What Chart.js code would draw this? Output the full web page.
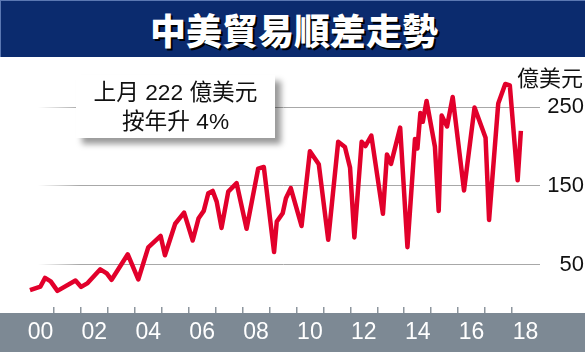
<!DOCTYPE html>
<html>
<head>
<meta charset="utf-8">
<script src="https://cdn.jsdelivr.net/npm/chart.js@4/dist/chart.umd.min.js"></script>
<style>
  html, body { margin: 0; padding: 0; background: #fff; }
  #wrap { position: relative; width: 585px; height: 360px; overflow: hidden; }
  #chart { position: absolute; left: 0; top: 0; }
  .title-bar {
    position: absolute; left: 0; top: 0; width: 585px; height: 57px;
    background: #0b2b6e; border-top: 1px solid #5b78b2; border-left: 1px solid #5b78b2; box-sizing: border-box;
  }
  .title-bar span {
    position: absolute; left: 0; right: 0; top: 6px; text-align: center; padding-left: 2px;
    color: #fff; font: 900 36px "Noto Sans CJK TC", sans-serif; line-height: 44px;
    text-shadow: 2px 2px 0 #000;
  }
  .note {
    position: absolute; left: 76px; top: 75px; width: 199px; height: 63px;
    background: #fff; box-shadow: 6px 6px 6px rgba(0,0,0,0.4);
    font: 22.7px "Liberation Sans", "Noto Sans CJK TC", sans-serif; color: #111;
    text-align: center; line-height: 29px; padding-top: 3px; box-sizing: border-box;
  }
  .unit {
    position: absolute; right: 2px; top: 61px;
    font: 22px "Noto Sans CJK TC", sans-serif; color: #111; line-height: 30px;
  }
</style>
</head>
<body>
<div id="wrap">
  <canvas id="chart" width="585" height="360"></canvas>
  <div class="title-bar"><span>中美貿易順差走勢</span></div>
  <div class="note">上月 222 億美元<br>按年升 4%</div>
  <div class="unit">億美元</div>
</div>
<script>
// --- 數據 (讀圖估計) ---
const years = [
  2000.11, 2000.50, 2000.67, 2000.88, 2001.13, 2001.80, 2002.01, 2002.25, 2002.72, 2002.96,
  2003.14, 2003.74, 2004.13, 2004.50, 2004.96, 2005.12, 2005.50, 2005.83, 2006.15, 2006.37,
  2006.56, 2006.73, 2006.89, 2007.04, 2007.22, 2007.47, 2007.78, 2008.15, 2008.58, 2008.79,
  2009.17, 2009.27, 2009.49, 2009.61, 2009.79, 2010.19, 2010.50, 2010.83, 2011.18, 2011.55,
  2011.80, 2011.99, 2012.15, 2012.42, 2012.56, 2012.78, 2013.21, 2013.36, 2013.51, 2013.85,
  2014.12, 2014.40, 2014.49, 2014.60, 2014.69, 2014.83, 2015.14, 2015.28, 2015.39, 2015.59,
  2015.80, 2016.22, 2016.61, 2017.02, 2017.15, 2017.49, 2017.75, 2017.92, 2018.21, 2018.33
];
const surplus = [
  17.5, 22, 33, 28.6, 16.5, 29.6, 21.5, 26.4, 43.9, 38.8,
  30.6, 63, 31, 71.7, 86.3, 61.8, 101.8, 116, 80.5, 108.9,
  118.2, 140.7, 143.6, 130, 96.5, 142.7, 153.4, 95.5, 172, 174,
  66, 104.5, 115.2, 134.3, 147.1, 99, 194, 177.4, 81.5, 206,
  199.3, 173.2, 84.5, 206, 200.6, 214, 114.5, 189.9, 178, 224,
  72, 209.6, 197.5, 242.6, 231.5, 258, 199.7, 118, 239.4, 225.5,
  263, 144, 249.5, 211.1, 106.6, 254.7, 279.5, 277.6, 157, 220
];
const yTickValues = [50, 150, 250];
const yearTicks = Array.from({ length: 20 }, (_, i) => 2000 + i); // 2000..2019

// 底部灰條
const axisBand = {
  id: 'axisBand',
  beforeDraw(chart) {
    const c = chart.ctx;
    c.save();
    c.fillStyle = '#7d8994';
    c.fillRect(0, chart.chartArea.bottom + 6, chart.width, 39);
    c.restore();
  }
};

function gridFade(ctx) {
  const chart = ctx.chart;
  if (!chart.chartArea) return '#a8a8a8';
  const g = chart.ctx.createLinearGradient(38, 0, 80, 0);
  g.addColorStop(0, 'rgba(168,168,168,0)');
  g.addColorStop(1, 'rgba(168,168,168,1)');
  return g;
}

new Chart(document.getElementById('chart'), {
  type: 'line',
  data: {
    datasets: [{
      data: years.map((x, i) => ({ x, y: surplus[i] })),
      borderColor: '#e2002b',
      borderWidth: 4.5,
      borderJoinStyle: 'round',
      pointRadius: 0,
      tension: 0
    }]
  },
  plugins: [axisBand],
  options: {
    responsive: false,
    animation: false,
    layout: { padding: { top: 60, left: 27, right: 1, bottom: 0 } },
    plugins: { legend: { display: false }, tooltip: { enabled: false } },
    scales: {
      x: {
        type: 'linear',
        min: 2000,
        max: 2019.04,
        afterBuildTicks: s => {
          const t = [];
          yearTicks.forEach(y => { t.push({ value: y }); if (y < 2019) t.push({ value: y + 0.5 }); });
          s.ticks = t;
        },
        afterFit: s => { s.height = 53; },
        border: { display: false },
        grid: {
          drawOnChartArea: false,
          drawTicks: true,
          tickLength: 6,
          lineWidth: 1.5,
          color: c => {
            const v = c.tick && c.tick.value;
            return (Number.isInteger(v) && v >= 2001 && v <= 2018) ? '#8d969e' : 'rgba(0,0,0,0)';
          }
        },
        ticks: {
          autoSkip: false,
          maxRotation: 0,
          minRotation: 0,
          padding: 6,
          color: '#fff',
          font: { family: '"Liberation Sans Narrow", "Liberation Sans", sans-serif', size: 23 },
          callback: v => (v % 1 === 0.5 && Math.floor(v) % 2 === 0) ? String(Math.floor(v)).slice(2) : ''
        }
      },
      y: {
        position: 'right',
        min: -4,
        max: 310,
        afterBuildTicks: s => { s.ticks = yTickValues.map(v => ({ value: v })); },
        afterFit: s => { s.width = 44; },
        border: { display: false },
        grid: { drawTicks: false, lineWidth: 1, color: gridFade },
        ticks: {
          crossAlign: 'far',
          padding: 0,
          color: '#111',
          font: { family: '"Liberation Sans", sans-serif', size: 22 }
        }
      }
    }
  }
});
</script>
</body>
</html>
